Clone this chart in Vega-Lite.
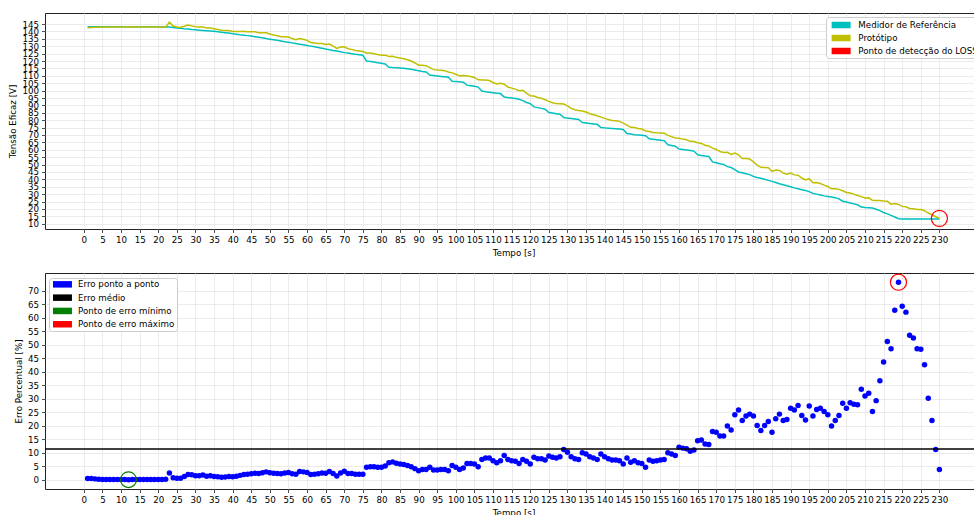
{
"$schema": "https://vega.github.io/schema/vega-lite/v6.json",
"padding": {"left": 8, "top": 12, "right": 0, "bottom": 0},
"background": "white",
"config": {
 "font": "DejaVu Sans",
 "view": {"stroke": "#222", "strokeWidth": 1},
 "axis": {"labelFontSize": 8.7, "titleFontSize": 8.7, "titleFontWeight": "normal", "labelColor": "#000", "titleColor": "#000", "tickColor": "#222", "tickSize": 3.5, "tickWidth": 0.8, "domain": false, "gridColor": "#e6e6e6", "gridWidth": 0.8, "labelPadding": 3, "labelOverlap": false, "labelFlush": false, "titlePadding": 4}
},
"datasets": {
"main": [
{"t":1,"ref":143.2,"prot":142.6,"err":0.4},{"t":2,"ref":143.2,"prot":142.7,"err":0.4},{"t":3,"ref":143.2,"prot":142.8,"err":0.3},{"t":4,"ref":143.2,"prot":142.9,"err":0.2},{"t":5,"ref":143.2,"prot":143.0,"err":0.1},{"t":6,"ref":143.2,"prot":143.0,"err":0.1},{"t":7,"ref":143.2,"prot":143.0,"err":0.1},{"t":8,"ref":143.2,"prot":143.1,"err":0.1},{"t":9,"ref":143.2,"prot":143.1,"err":0.1},{"t":10,"ref":143.2,"prot":143.1,"err":0.1},
{"t":11,"ref":143.2,"prot":143.1,"err":0.1},{"t":12,"ref":143.2,"prot":143.2,"err":0.0},{"t":13,"ref":143.2,"prot":143.1,"err":0.1},{"t":14,"ref":143.2,"prot":143.1,"err":0.1},{"t":15,"ref":143.2,"prot":143.1,"err":0.1},{"t":16,"ref":143.2,"prot":143.1,"err":0.1},{"t":17,"ref":143.2,"prot":143.1,"err":0.1},{"t":18,"ref":143.2,"prot":143.1,"err":0.1},{"t":19,"ref":143.2,"prot":143.1,"err":0.1},{"t":20,"ref":143.2,"prot":143.1,"err":0.1},
{"t":21,"ref":143.2,"prot":143.1,"err":0.1},{"t":22,"ref":143.1,"prot":142.9,"err":0.2},{"t":23,"ref":143.0,"prot":146.3,"err":2.5},{"t":24,"ref":142.7,"prot":143.7,"err":0.7},{"t":25,"ref":142.4,"prot":143.1,"err":0.5},{"t":26,"ref":142.1,"prot":142.8,"err":0.5},{"t":27,"ref":141.8,"prot":143.5,"err":1.2},{"t":28,"ref":141.6,"prot":144.3,"err":1.9},{"t":29,"ref":141.3,"prot":143.8,"err":1.8},{"t":30,"ref":141.1,"prot":143.2,"err":1.5},
{"t":31,"ref":140.9,"prot":143.0,"err":1.5},{"t":32,"ref":140.7,"prot":143.1,"err":1.7},{"t":33,"ref":140.5,"prot":142.3,"err":1.3},{"t":34,"ref":140.3,"prot":142.4,"err":1.5},{"t":35,"ref":140.1,"prot":141.8,"err":1.2},{"t":36,"ref":139.8,"prot":141.3,"err":1.1},{"t":37,"ref":139.5,"prot":140.8,"err":0.9},{"t":38,"ref":139.2,"prot":140.6,"err":1.0},{"t":39,"ref":138.9,"prot":140.6,"err":1.2},{"t":40,"ref":138.5,"prot":140.0,"err":1.1},
{"t":41,"ref":138.2,"prot":140.0,"err":1.3},{"t":42,"ref":137.8,"prot":140.0,"err":1.6},{"t":43,"ref":137.5,"prot":140.1,"err":1.9},{"t":44,"ref":137.2,"prot":139.9,"err":2.0},{"t":45,"ref":136.9,"prot":139.9,"err":2.2},{"t":46,"ref":136.5,"prot":139.8,"err":2.4},{"t":47,"ref":136.1,"prot":139.2,"err":2.3},{"t":48,"ref":135.7,"prot":139.2,"err":2.6},{"t":49,"ref":135.2,"prot":139.1,"err":2.9},{"t":50,"ref":134.8,"prot":138.3,"err":2.6},
{"t":51,"ref":134.4,"prot":137.6,"err":2.4},{"t":52,"ref":134.0,"prot":137.1,"err":2.3},{"t":53,"ref":133.6,"prot":136.5,"err":2.2},{"t":54,"ref":133.1,"prot":136.4,"err":2.5},{"t":55,"ref":132.7,"prot":136.3,"err":2.7},{"t":56,"ref":132.3,"prot":135.2,"err":2.2},{"t":57,"ref":131.8,"prot":134.4,"err":2.0},{"t":58,"ref":131.4,"prot":135.3,"err":3.0},{"t":59,"ref":131.0,"prot":134.8,"err":2.9},{"t":60,"ref":130.5,"prot":134.0,"err":2.7},
{"t":61,"ref":130.1,"prot":132.6,"err":1.9},{"t":62,"ref":129.6,"prot":132.2,"err":2.0},{"t":63,"ref":129.1,"prot":131.9,"err":2.2},{"t":64,"ref":128.6,"prot":131.8,"err":2.5},{"t":65,"ref":128.1,"prot":131.2,"err":2.4},{"t":66,"ref":127.7,"prot":131.5,"err":3.0},{"t":67,"ref":127.2,"prot":130.1,"err":2.3},{"t":68,"ref":126.8,"prot":128.6,"err":1.4},{"t":69,"ref":126.3,"prot":129.5,"err":2.5},{"t":70,"ref":125.7,"prot":129.6,"err":3.1},
{"t":71,"ref":125.4,"prot":128.3,"err":2.3},{"t":72,"ref":125.0,"prot":127.9,"err":2.3},{"t":73,"ref":124.6,"prot":127.1,"err":2.0},{"t":74,"ref":124.3,"prot":126.8,"err":2.0},{"t":75,"ref":123.9,"prot":126.4,"err":2.0},{"t":76,"ref":120.0,"prot":125.5,"err":4.6},{"t":77,"ref":119.7,"prot":125.4,"err":4.8},{"t":78,"ref":119.3,"prot":125.0,"err":4.8},{"t":79,"ref":118.9,"prot":124.4,"err":4.6},{"t":80,"ref":118.5,"prot":124.0,"err":4.6},
{"t":81,"ref":118.0,"prot":124.0,"err":5.1},{"t":82,"ref":115.8,"prot":123.1,"err":6.3},{"t":83,"ref":115.6,"prot":123.2,"err":6.6},{"t":84,"ref":115.5,"prot":122.5,"err":6.1},{"t":85,"ref":115.3,"prot":122.0,"err":5.8},{"t":86,"ref":115.1,"prot":121.5,"err":5.6},{"t":87,"ref":114.8,"prot":120.9,"err":5.3},{"t":88,"ref":114.5,"prot":120.0,"err":4.8},{"t":89,"ref":114.0,"prot":118.7,"err":4.1},{"t":90,"ref":113.5,"prot":117.2,"err":3.3},
{"t":91,"ref":112.9,"prot":117.2,"err":3.8},{"t":92,"ref":112.6,"prot":116.9,"err":3.8},{"t":93,"ref":110.5,"prot":115.6,"err":4.6},{"t":94,"ref":110.2,"prot":114.2,"err":3.6},{"t":95,"ref":109.9,"prot":113.9,"err":3.6},{"t":96,"ref":109.6,"prot":113.8,"err":3.8},{"t":97,"ref":109.3,"prot":113.5,"err":3.8},{"t":98,"ref":109.0,"prot":112.6,"err":3.3},{"t":99,"ref":106.4,"prot":112.0,"err":5.3},{"t":100,"ref":106.2,"prot":111.1,"err":4.6},
{"t":101,"ref":106.0,"prot":110.0,"err":3.8},{"t":102,"ref":105.7,"prot":110.2,"err":4.3},{"t":103,"ref":103.7,"prot":109.9,"err":6.0},{"t":104,"ref":103.3,"prot":109.5,"err":6.0},{"t":105,"ref":102.9,"prot":108.9,"err":5.8},{"t":106,"ref":102.4,"prot":107.3,"err":4.8},{"t":107,"ref":99.7,"prot":107.2,"err":7.5},{"t":108,"ref":99.2,"prot":107.1,"err":8.0},{"t":109,"ref":98.9,"prot":106.8,"err":8.0},{"t":110,"ref":98.6,"prot":105.5,"err":7.0},
{"t":111,"ref":98.3,"prot":104.5,"err":6.3},{"t":112,"ref":98.0,"prot":104.9,"err":7.0},{"t":113,"ref":95.7,"prot":104.3,"err":9.0},{"t":114,"ref":95.3,"prot":102.4,"err":7.5},{"t":115,"ref":95.0,"prot":101.7,"err":7.0},{"t":116,"ref":94.6,"prot":101.0,"err":6.8},{"t":117,"ref":94.2,"prot":99.9,"err":6.0},{"t":118,"ref":93.2,"prot":100.2,"err":7.5},{"t":119,"ref":92.0,"prot":98.3,"err":6.8},{"t":120,"ref":91.2,"prot":96.5,"err":5.8},
{"t":121,"ref":89.0,"prot":96.4,"err":8.3},{"t":122,"ref":88.5,"prot":95.4,"err":7.8},{"t":123,"ref":88.0,"prot":94.9,"err":7.8},{"t":124,"ref":87.4,"prot":93.8,"err":7.3},{"t":125,"ref":85.2,"prot":92.7,"err":8.8},{"t":126,"ref":84.8,"prot":91.8,"err":8.3},{"t":127,"ref":84.4,"prot":91.2,"err":8.0},{"t":128,"ref":84.0,"prot":91.1,"err":8.5},{"t":129,"ref":81.8,"prot":91.0,"err":11.2},{"t":130,"ref":81.4,"prot":89.7,"err":10.2},
{"t":131,"ref":81.1,"prot":88.0,"err":8.5},{"t":132,"ref":80.8,"prot":87.1,"err":7.8},{"t":133,"ref":80.5,"prot":86.5,"err":7.5},{"t":134,"ref":78.4,"prot":86.2,"err":10.0},{"t":135,"ref":78.1,"prot":85.5,"err":9.5},{"t":136,"ref":77.8,"prot":84.4,"err":8.5},{"t":137,"ref":77.5,"prot":83.7,"err":8.0},{"t":138,"ref":77.2,"prot":83.0,"err":7.5},{"t":139,"ref":75.0,"prot":82.1,"err":9.5},{"t":140,"ref":74.8,"prot":81.2,"err":8.5},
{"t":141,"ref":74.6,"prot":80.4,"err":7.8},{"t":142,"ref":74.4,"prot":79.8,"err":7.3},{"t":143,"ref":74.2,"prot":79.6,"err":7.3},{"t":144,"ref":74.0,"prot":79.2,"err":7.0},{"t":145,"ref":73.7,"prot":78.0,"err":5.8},{"t":146,"ref":71.0,"prot":76.7,"err":8.0},{"t":147,"ref":70.6,"prot":75.2,"err":6.5},{"t":148,"ref":70.2,"prot":75.1,"err":7.0},{"t":149,"ref":70.0,"prot":74.4,"err":6.3},{"t":150,"ref":69.8,"prot":74.0,"err":6.0},
{"t":151,"ref":69.5,"prot":72.7,"err":4.6},{"t":152,"ref":67.4,"prot":72.3,"err":7.3},{"t":153,"ref":67.1,"prot":71.7,"err":6.8},{"t":154,"ref":66.8,"prot":71.5,"err":7.0},{"t":155,"ref":66.5,"prot":71.4,"err":7.3},{"t":156,"ref":66.2,"prot":71.2,"err":7.5},{"t":157,"ref":63.4,"prot":69.7,"err":10.0},{"t":158,"ref":62.9,"prot":68.9,"err":9.5},{"t":159,"ref":62.4,"prot":68.0,"err":9.0},{"t":160,"ref":60.5,"prot":67.8,"err":12.0},
{"t":161,"ref":60.2,"prot":67.2,"err":11.7},{"t":162,"ref":59.9,"prot":66.8,"err":11.5},{"t":163,"ref":59.5,"prot":65.7,"err":10.5},{"t":164,"ref":59.1,"prot":65.6,"err":11.0},{"t":165,"ref":56.6,"prot":64.8,"err":14.4},{"t":166,"ref":56.1,"prot":64.3,"err":14.7},{"t":167,"ref":55.7,"prot":63.1,"err":13.2},{"t":168,"ref":55.4,"prot":62.6,"err":13.0},{"t":169,"ref":51.8,"prot":61.1,"err":17.9},{"t":170,"ref":51.2,"prot":60.2,"err":17.6},
{"t":171,"ref":50.6,"prot":58.8,"err":16.2},{"t":172,"ref":50.1,"prot":58.2,"err":16.2},{"t":173,"ref":48.6,"prot":58.3,"err":19.9},{"t":174,"ref":48.0,"prot":56.8,"err":18.4},{"t":175,"ref":46.5,"prot":57.7,"err":24.1},{"t":176,"ref":45.0,"prot":56.6,"err":25.8},{"t":177,"ref":44.4,"prot":54.1,"err":21.9},{"t":178,"ref":43.8,"prot":54.1,"err":23.6},{"t":179,"ref":43.2,"prot":53.7,"err":24.3},{"t":180,"ref":42.0,"prot":51.9,"err":23.6},
{"t":181,"ref":41.3,"prot":49.6,"err":20.1},{"t":182,"ref":40.7,"prot":48.1,"err":18.2},{"t":183,"ref":40.0,"prot":48.0,"err":20.1},{"t":184,"ref":39.3,"prot":47.8,"err":21.6},{"t":185,"ref":38.6,"prot":45.4,"err":17.6},{"t":186,"ref":37.8,"prot":46.3,"err":22.6},{"t":187,"ref":37.0,"prot":46.0,"err":24.3},{"t":188,"ref":36.3,"prot":44.2,"err":21.9},{"t":189,"ref":35.6,"prot":43.5,"err":22.3},{"t":190,"ref":35.0,"prot":44.3,"err":26.5},
{"t":191,"ref":34.2,"prot":43.0,"err":25.8},{"t":192,"ref":33.6,"prot":42.8,"err":27.5},{"t":193,"ref":33.0,"prot":40.9,"err":23.8},{"t":194,"ref":32.4,"prot":39.6,"err":22.1},{"t":195,"ref":31.7,"prot":40.4,"err":27.3},{"t":196,"ref":30.5,"prot":37.7,"err":23.6},{"t":197,"ref":30.0,"prot":37.8,"err":26.0},{"t":198,"ref":29.4,"prot":37.2,"err":26.5},{"t":199,"ref":28.8,"prot":36.1,"err":25.3},{"t":200,"ref":28.4,"prot":35.2,"err":24.1},
{"t":201,"ref":28.0,"prot":33.6,"err":19.9},{"t":202,"ref":27.6,"prot":33.6,"err":21.9},{"t":203,"ref":26.8,"prot":33.2,"err":23.8},{"t":204,"ref":25.2,"prot":32.3,"err":28.3},{"t":205,"ref":24.6,"prot":31.1,"err":26.5},{"t":206,"ref":24.0,"prot":30.8,"err":28.5},{"t":207,"ref":23.4,"prot":30.0,"err":28.0},{"t":208,"ref":22.8,"prot":29.1,"err":27.8},{"t":209,"ref":21.2,"prot":28.3,"err":33.5},{"t":210,"ref":20.9,"prot":27.4,"err":31.0},
{"t":211,"ref":20.8,"prot":27.5,"err":32.0},{"t":212,"ref":20.6,"prot":25.8,"err":25.3},{"t":213,"ref":19.8,"prot":25.6,"err":29.3},{"t":214,"ref":18.8,"prot":25.7,"err":36.7},{"t":215,"ref":17.6,"prot":25.3,"err":43.6},{"t":216,"ref":16.6,"prot":25.1,"err":51.2},{"t":217,"ref":15.6,"prot":23.2,"err":48.5},{"t":218,"ref":14.5,"prot":23.6,"err":62.8},{"t":219,"ref":13.3,"prot":23.0,"err":73.2},{"t":220,"ref":13.2,"prot":21.7,"err":64.3},
{"t":221,"ref":13.2,"prot":21.4,"err":62.1},{"t":222,"ref":13.2,"prot":20.3,"err":53.5},{"t":223,"ref":13.2,"prot":20.1,"err":52.5},{"t":224,"ref":13.2,"prot":19.6,"err":48.5},{"t":225,"ref":13.2,"prot":19.6,"err":48.3},{"t":226,"ref":13.2,"prot":18.8,"err":42.6},{"t":227,"ref":13.2,"prot":17.2,"err":30.2},{"t":228,"ref":13.2,"prot":16.1,"err":21.9},{"t":229,"ref":13.2,"prot":14.7,"err":11.2},{"t":230,"ref":13.2,"prot":13.7,"err":3.8}
],
"loss": [{"t":230,"v":13.6}],
"mean": [{"err":11.4}],
"minp": [{"t":12,"err":0.0}],
"maxp": [{"t":219,"err":73.2}]
},
"spacing": 44,
"bounds": "flush",
"resolve": {"scale": {"x": "independent", "y": "independent", "stroke": "independent", "fill": "independent"}, "legend": {"stroke": "independent", "fill": "independent"}},
"vconcat": [
{
 "width": 937, "height": 216,
 "layer": [
  {
   "data": {"name": "main"},
   "transform": [{"fold": ["ref", "prot"], "as": ["serie", "v"]}],
   "mark": {"type": "line", "strokeWidth": 1.5},
   "encoding": {
    "x": {"field": "t", "type": "quantitative", "scale": {"domain": [-10.45, 241.45], "nice": false, "zero": false}, "axis": {"title": "Tempo [s]", "format": "d", "labelOverlap": false, "tickCount": 500, "values": [0,5,10,15,20,25,30,35,40,45,50,55,60,65,70,75,80,85,90,95,100,105,110,115,120,125,130,135,140,145,150,155,160,165,170,175,180,185,190,195,200,205,210,215,220,225,230]}},
    "y": {"field": "v", "type": "quantitative", "scale": {"domain": [6.4, 152.5], "nice": false, "zero": false}, "axis": {"title": "Tensão Eficaz [V]", "format": "d", "labelOverlap": false, "tickCount": 500, "values": [10,15,20,25,30,35,40,45,50,55,60,65,70,75,80,85,90,95,100,105,110,115,120,125,130,135,140,145]}},
    "stroke": {"field": "serie", "type": "nominal", "title": null, "scale": {"domain": ["ref", "prot", "loss"], "range": ["#00bfbf", "#bfbf00", "#ff0000"]},
     "legend": {"title": null, "orient": "none", "legendX": 781, "legendY": 4, "symbolType": "M-1,0H7", "symbolSize": 22.5, "symbolStrokeWidth": 6.5, "symbolOpacity": 1, "labelFontSize": 8.7, "labelColor": "#000", "labelOffset": 18.3, "padding": 2, "strokeColor": "#cccccc", "fillColor": "#ffffff", "cornerRadius": 3, "rowPadding": 2,
      "encode": {"symbols": {"update": {"strokeJoin": {"value": "bevel"}}}},
      "labelExpr": "datum.label == 'ref' ? 'Medidor de Referência' : datum.label == 'prot' ? 'Protótipo' : 'Ponto de detecção do LOSS'"}}
   }
  },
  {
   "data": {"name": "loss"},
   "mark": {"type": "point", "shape": "circle", "filled": false, "size": 260, "strokeWidth": 1.2, "opacity": 1, "stroke": "#ff0000"},
   "encoding": {
    "x": {"field": "t", "type": "quantitative"},
    "y": {"field": "v", "type": "quantitative"}
   }
  }
 ]
},
{
 "width": 937, "height": 216,
 "layer": [
  {
   "data": {"name": "main"},
   "mark": {"type": "circle", "size": 30, "opacity": 1, "strokeWidth": 0},
   "encoding": {
    "x": {"field": "t", "type": "quantitative", "scale": {"domain": [-10.45, 241.45], "nice": false, "zero": false}, "axis": {"title": "Tempo [s]", "format": "d", "labelOverlap": false, "tickCount": 500, "values": [0,5,10,15,20,25,30,35,40,45,50,55,60,65,70,75,80,85,90,95,100,105,110,115,120,125,130,135,140,145,150,155,160,165,170,175,180,185,190,195,200,205,210,215,220,225,230]}},
    "y": {"field": "err", "type": "quantitative", "scale": {"domain": [-3.45, 76.6], "nice": false, "zero": false}, "axis": {"title": "Erro Percentual [%]", "format": "d", "labelOverlap": false, "tickCount": 500, "values": [0,5,10,15,20,25,30,35,40,45,50,55,60,65,70]}},
    "fill": {"datum": "pt", "type": "nominal", "title": null, "scale": {"domain": ["pt", "mean", "min", "max"], "range": ["#0000ff", "#000000", "#008000", "#ff0000"]},
     "legend": {"title": null, "orient": "none", "legendX": 4, "legendY": 5, "symbolType": "M-1,-1.37H7V1.37H-1Z", "symbolSize": 22.5, "symbolStrokeWidth": 0, "symbolOpacity": 1, "labelFontSize": 8.7, "labelColor": "#000", "labelOffset": 18.3, "padding": 2, "strokeColor": "#cccccc", "fillColor": "#ffffff", "cornerRadius": 3, "rowPadding": 3.3,
      "labelExpr": "datum.label == 'pt' ? 'Erro ponto a ponto' : datum.label == 'mean' ? 'Erro médio' : datum.label == 'min' ? 'Ponto de erro mínimo' : 'Ponto de erro máximo'"}}
   }
  },
  {
   "data": {"name": "mean"},
   "mark": {"type": "rule", "strokeWidth": 1.5, "stroke": "#000000"},
   "encoding": {
    "y": {"field": "err", "type": "quantitative"}
   }
  },
  {
   "data": {"name": "minp"},
   "mark": {"type": "point", "shape": "circle", "filled": false, "size": 250, "strokeWidth": 1.2, "opacity": 1, "stroke": "#008000"},
   "encoding": {
    "x": {"field": "t", "type": "quantitative"},
    "y": {"field": "err", "type": "quantitative"}
   }
  },
  {
   "data": {"name": "maxp"},
   "mark": {"type": "point", "shape": "circle", "filled": false, "size": 260, "strokeWidth": 1.2, "opacity": 1, "stroke": "#ff0000"},
   "encoding": {
    "x": {"field": "t", "type": "quantitative"},
    "y": {"field": "err", "type": "quantitative"}
   }
  }
 ]
}
]
}
